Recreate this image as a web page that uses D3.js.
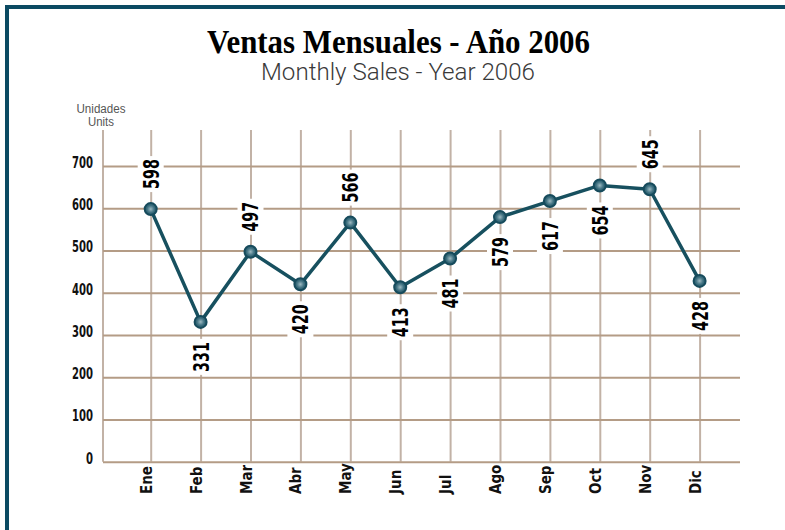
<!DOCTYPE html>
<html>
<head>
<meta charset="utf-8">
<script src="https://cdn.jsdelivr.net/npm/d3@7"></script>
<style>
  html, body { margin: 0; padding: 0; background: #fff; }
  svg { display: block; }
</style>
</head>
<body>
<svg id="chart" width="785" height="530"></svg>
<script>
// ---- Data ----
const months = ["Ene", "Feb", "Mar", "Abr", "May", "Jun", "Jul", "Ago", "Sep", "Oct", "Nov", "Dic"];
const sales = [598, 331, 497, 420, 566, 413, 481, 579, 617, 654, 645, 428];
const yTicks = [0, 100, 200, 300, 400, 500, 600, 700];
const labelSide = ["above", "below", "above", "below", "above", "below", "below", "below", "below", "below", "above", "below"];

const titleText = "Ventas Mensuales - Año 2006";
const subtitleText = "Monthly Sales - Year 2006";
const unitLabels = ["Unidades", "Units"];

// ---- Layout ----
const svg = d3.select("#chart");
const narrow = "'Liberation Sans Narrow', 'Arial Narrow', 'DejaVu Sans Condensed', 'Liberation Sans', sans-serif";
const plotLeft = 103, plotRight = 740, plotTop = 130;

const x = d3.scalePoint().domain(months).range([150.7, 699.6]).padding(0);
const y = d3.scaleLinear().domain([0, 700]).range([461.7, 166]);

// frame
svg.append("rect")
  .attr("x", 7).attr("y", 7).attr("width", 900).attr("height", 900)
  .attr("fill", "none").attr("stroke", "#0b4a62").attr("stroke-width", 4);

// title
svg.append("text")
  .attr("x", 398.5).attr("y", 53)
  .attr("text-anchor", "middle")
  .attr("font-family", "'Liberation Serif', 'DejaVu Serif', serif")
  .attr("font-weight", "bold")
  .attr("font-size", 33)
  .attr("textLength", 383).attr("lengthAdjust", "spacingAndGlyphs")
  .attr("fill", "#000")
  .text(titleText);

svg.append("text")
  .attr("x", 398).attr("y", 80)
  .attr("text-anchor", "middle")
  .attr("font-family", "Roboto, 'Liberation Sans', sans-serif")
  .attr("font-weight", 300)
  .attr("font-size", 23)
  .attr("textLength", 274).attr("lengthAdjust", "spacingAndGlyphs")
  .attr("fill", "#3a3a3a")
  .text(subtitleText);

// units label
svg.selectAll("text.unit").data(unitLabels).join("text")
  .attr("class", "unit")
  .attr("x", 101).attr("y", (d, i) => 113 + i * 13)
  .attr("text-anchor", "middle")
  .attr("font-family", "'Liberation Sans', Arial, sans-serif")
  .attr("font-size", 12)
  .attr("textLength", (d, i) => i === 0 ? 49 : 26).attr("lengthAdjust", "spacingAndGlyphs")
  .attr("fill", "#555")
  .text(d => d);

// vertical grid lines (x axis)
const xAxis = d3.axisBottom(x).tickSize(-(y(0) - plotTop)).tickFormat("");
const gx = svg.append("g").attr("transform", `translate(0,${y(0)})`).call(xAxis);
gx.select(".domain").remove();
gx.selectAll(".tick line").attr("stroke", "#c2b2a6").attr("stroke-width", 2);

// left axis line
svg.append("line")
  .attr("x1", plotLeft).attr("x2", plotLeft)
  .attr("y1", plotTop).attr("y2", y(0))
  .attr("stroke", "#c2b2a6").attr("stroke-width", 2);

// horizontal grid lines (y axis)
const yAxis = d3.axisLeft(y).tickValues(yTicks).tickSize(-(plotRight - plotLeft)).tickPadding(10);
const gy = svg.append("g").attr("transform", `translate(${plotLeft},0)`).call(yAxis);
gy.select(".domain").remove();
gy.selectAll(".tick line").attr("stroke", "#b49c86").attr("stroke-width", 2);
gy.selectAll(".tick text")
  .attr("font-family", narrow)
  .attr("font-weight", "bold")
  .attr("font-size", 15)
  .attr("fill", "#111")
  .attr("dy", "0.1em")
  .attr("textLength", d => String(d).length * 7)
  .attr("lengthAdjust", "spacingAndGlyphs");

// month labels
svg.selectAll("text.month").data(months).join("text")
  .attr("class", "month")
  .attr("transform", d => `translate(${x(d) + 1},494) rotate(-90)`)
  .attr("text-anchor", "start")
  .attr("font-family", narrow)
  .attr("font-weight", "bold")
  .attr("font-size", 15)
  .attr("fill", "#111")
  .text(d => d);

// line
const line = d3.line().x((d, i) => x(months[i])).y(d => y(d));
svg.append("path")
  .datum(sales)
  .attr("d", line)
  .attr("fill", "none")
  .attr("stroke", "#17505f")
  .attr("stroke-width", 3.5)
  .attr("stroke-linejoin", "round");

// markers
const defs = svg.append("defs");
const grad = defs.append("radialGradient").attr("id", "mk");
grad.append("stop").attr("offset", "0%").attr("stop-color", "#9dbac2");
grad.append("stop").attr("offset", "60%").attr("stop-color", "#3e7080");
grad.append("stop").attr("offset", "100%").attr("stop-color", "#245868");

svg.selectAll("circle.pt").data(sales).join("circle")
  .attr("class", "pt")
  .attr("cx", (d, i) => x(months[i]))
  .attr("cy", d => y(d))
  .attr("r", 6)
  .attr("fill", "url(#mk)")
  .attr("stroke", "#164b5c")
  .attr("stroke-width", 2);

// value labels
const lbl = svg.selectAll("g.vl").data(sales).join("g")
  .attr("class", "vl")
  .attr("transform", (d, i) => {
    const cy = labelSide[i] === "above" ? y(d) - 35 : y(d) + 35;
    return `translate(${x(months[i])},${cy})`;
  });
lbl.append("rect")
  .attr("x", -13).attr("y", -18).attr("width", 26).attr("height", 36)
  .attr("fill", "#fff");
lbl.append("text")
  .attr("transform", "rotate(-90)")
  .attr("text-anchor", "middle")
  .attr("dy", "0.36em")
  .attr("font-family", narrow)
  .attr("font-weight", "bold")
  .attr("font-size", 22)
  .attr("textLength", 30).attr("lengthAdjust", "spacingAndGlyphs")
  .attr("fill", "#000")
  .text(d => d);
</script>
</body>
</html>
